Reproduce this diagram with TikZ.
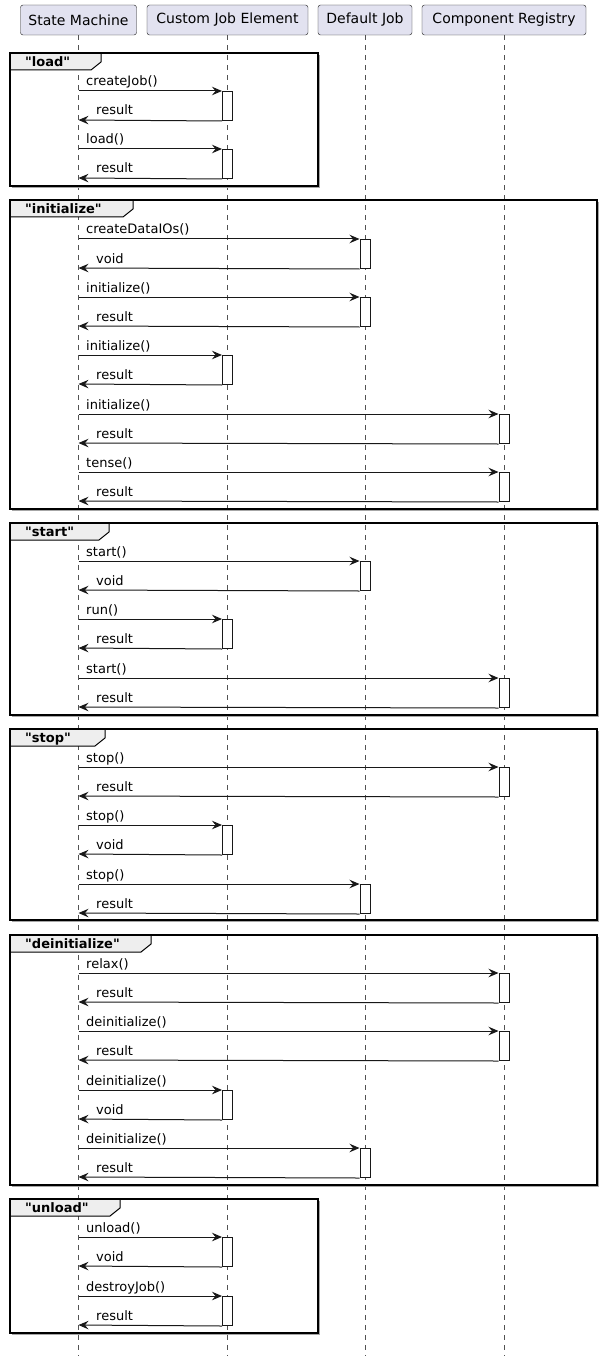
\documentclass[tikz,border=0pt]{standalone}
\usepackage{fontspec}
\setmainfont{DejaVu Sans}
% family without TeX ligatures, so " stays a straight quote
\newfontfamily\plainsans{DejaVu Sans}
\usetikzlibrary{arrows.meta}
\definecolor{partfill}{HTML}{E2E2F0}
\definecolor{ink}{HTML}{181818}
\definecolor{tabfill}{HTML}{EEEEEE}

% one framed group with its label tab
% #1 top, #2 bottom, #3 right edge, #4 tab right edge, #5 label
\newcommand\seqgroup[5]{%
  \draw[black!35, line width=1.5pt] (#3+1.6,#1+2) -- (#3+1.6,#2+1.6) -- (12,#2+1.6);
  \filldraw[grouptab] (10,#1) -- (#4,#1) -- (#4,#1+9) -- (#4-10,#1+17) -- (10,#1+17);
  \draw[groupframe] (10,#1) rectangle (#3,#2);
  \node[grouplabel] at (25,#1+13.5) {"#5"};
}

% one call with its reply and activation bar
% #1 name, #2 call y, #3 target participant, #4 call text, #5 reply text
\newcommand\seqcall[5]{%
  \pgfmathsetmacro\replyy{#2+29}%
  \pgfmathsetmacro\cally{#2-5}%
  \pgfmathsetmacro\replytxt{#2+24}%
  \coordinate (#1s) at (sm.south |- 0,#2);
  \coordinate (#1r) at (sm.south |- 0,\replyy);
  \node[activation, anchor=north] (#1a) at (#3.south |- 0,#2) {};
  \draw[msg] (#1s) -- (#1a.north west);
  \draw[msg] (#1a.south west) -- (#1r);
  \node[msglabel] (#1c) at (86,\cally) {#4};
  \node[msglabel] (#1t) at (96,\replytxt) {#5};
}

\begin{document}
\begin{tikzpicture}[x=1pt,y=-1pt,
  participant/.style={draw=ink, fill=partfill, rounded corners=2.5pt, minimum height=30pt,
    inner sep=0pt, font=\fontsize{14}{16}\selectfont, text=black},
  lifeline/.style={draw=ink!75, line width=0.6pt, dash pattern=on 5pt off 5pt},
  msg/.style={draw=ink, line width=1pt, -{Stealth[length=10pt,width=8.5pt,inset=3.5pt]}},
  activation/.style={draw=ink, fill=white, line width=1pt, minimum width=10pt,
    minimum height=29pt, inner sep=0pt},
  msglabel/.style={anchor=base west, font=\fontsize{13}{15}\selectfont, inner sep=0pt},
  groupframe/.style={draw=black, line width=1.5pt},
  grouptab/.style={draw=black, fill=tabfill, line width=1pt},
  grouplabel/.style={anchor=base west, font=\plainsans\bfseries\fontsize{13}{15}\selectfont, inner sep=0pt},
]
\useasboundingbox (0,0) rectangle (601,1356);

% participants
\node[participant, minimum width=116pt] (sm)  at (78.5,20)  {State Machine};
\node[participant, minimum width=161pt] (cje) at (227.5,20) {Custom Job Element};
\node[participant, minimum width=94pt]  (dj)  at (365,20)   {Default Job};
\node[participant, minimum width=164pt] (cr)  at (504,20)   {Component Registry};

% lifelines
\foreach \p in {sm,cje,dj,cr}
  \draw[lifeline] (\p.south) -- (\p.south |- 0,1356);

% groups
\seqgroup{53}{186}{318}{101}{load}
\seqgroup{200}{509}{597}{133}{initialize}
\seqgroup{523}{715}{597}{109}{start}
\seqgroup{729}{920}{597}{105}{stop}
\seqgroup{935}{1185}{597}{151}{deinitialize}
\seqgroup{1199}{1333}{318}{120}{unload}

% load
\seqcall{m1}{91}{cje}{createJob()}{result}
\seqcall{m2}{149}{cje}{load()}{result}
% initialize
\seqcall{m3}{239}{dj}{createDataIOs()}{void}
\seqcall{m4}{297}{dj}{initialize()}{result}
\seqcall{m5}{355}{cje}{initialize()}{result}
\seqcall{m6}{414}{cr}{initialize()}{result}
\seqcall{m7}{472}{cr}{tense()}{result}
% start
\seqcall{m8}{561}{dj}{start()}{void}
\seqcall{m9}{619}{cje}{run()}{result}
\seqcall{m10}{678}{cr}{start()}{result}
% stop
\seqcall{m11}{767}{cr}{stop()}{result}
\seqcall{m12}{825}{cje}{stop()}{void}
\seqcall{m13}{884}{dj}{stop()}{result}
% deinitialize
\seqcall{m14}{973}{cr}{relax()}{result}
\seqcall{m15}{1031}{cr}{deinitialize()}{result}
\seqcall{m16}{1090}{cje}{deinitialize()}{void}
\seqcall{m17}{1148}{dj}{deinitialize()}{result}
% unload
\seqcall{m18}{1237}{cje}{unload()}{void}
\seqcall{m19}{1296}{cje}{destroyJob()}{result}
\end{tikzpicture}
\end{document}
